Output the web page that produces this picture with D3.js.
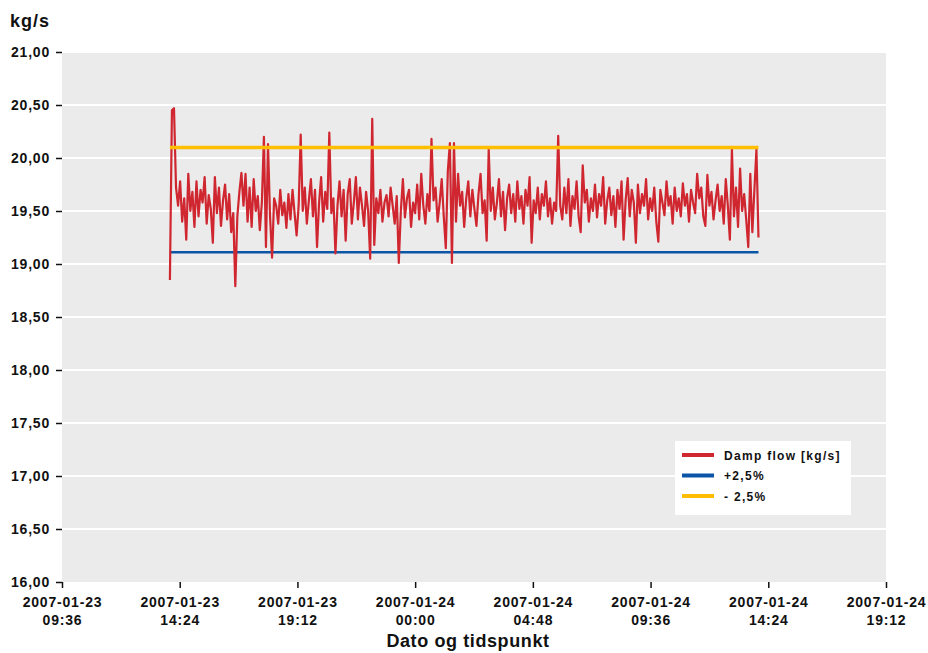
<!DOCTYPE html>
<html>
<head>
<meta charset="utf-8">
<script src="https://cdn.jsdelivr.net/npm/d3@7"></script>
<style>
  body { margin: 0; background: #fff; }
  text { font-family: "Liberation Sans", Arial, sans-serif; font-weight: bold; fill: #111; }
</style>
</head>
<body>
<div id="chart"></div>
<script>
// data: damp flow, one reading every 5 minutes, 2007-01-23 14:00 -> 2007-01-24 14:00
const startTime = "2007-01-23 14:00";
const stepMinutes = 5;
const flowValues = [
  18.85, 20.45, 20.47, 19.72, 19.55, 19.78, 19.40, 19.62, 19.23, 19.85,
  19.50, 19.68, 19.35, 19.78, 19.45, 19.70, 19.58, 19.82, 19.38, 19.65,
  19.52, 19.20, 19.82, 19.48, 19.72, 19.36, 19.60, 19.75, 19.42, 19.66,
  19.30, 19.48, 18.79, 19.45, 19.68, 19.86, 19.55, 19.85, 19.40, 19.72,
  19.35, 19.80, 19.50, 19.64, 19.32, 19.58, 20.20, 19.16, 20.13, 19.45,
  19.06, 19.62, 19.55, 19.38, 19.70, 19.46, 19.58, 19.34, 19.66, 19.42,
  19.70, 19.48, 19.27, 19.55, 20.22, 19.50, 19.72, 19.38, 19.60, 19.80,
  19.45, 19.70, 19.16, 19.58, 19.82, 19.40, 19.68, 19.52, 20.24, 19.48,
  19.62, 19.10, 19.55, 19.78, 19.45, 19.70, 19.22, 19.66, 19.80, 19.38,
  19.58, 19.82, 19.42, 19.72, 19.55, 19.36, 19.68, 19.50, 19.05, 20.37,
  19.18, 19.62, 19.48, 19.70, 19.40, 19.58, 19.65, 19.45, 19.72, 19.55,
  19.38, 19.64, 19.01, 19.50, 19.80, 19.44, 19.62, 19.70, 19.35, 19.58,
  19.48, 19.75, 19.42, 19.85, 19.55, 19.38, 19.66, 19.50, 20.18, 19.60,
  19.72, 19.40, 19.58, 19.80, 19.45, 19.15, 19.88, 20.14, 19.01, 20.14,
  19.40, 19.85, 19.55, 19.68, 19.35, 19.62, 19.78, 19.45, 19.70, 19.52,
  19.36, 19.66, 19.85, 19.48, 19.60, 19.22, 20.08, 19.50, 19.72, 19.42,
  19.58, 19.80, 19.45, 19.68, 19.32, 19.62, 19.75, 19.48, 19.66, 19.40,
  19.78, 19.52, 19.64, 19.38, 19.70, 19.55, 19.82, 19.20, 19.60, 19.48,
  19.72, 19.42, 19.66, 19.55, 19.78, 19.45, 19.62, 19.38, 19.58, 19.50,
  20.21, 19.55, 19.42, 19.72, 19.48, 19.80, 19.36, 19.64, 19.52, 19.78,
  19.45, 19.30, 19.93, 19.58, 19.70, 19.40, 19.62, 19.50, 19.75, 19.44,
  19.66, 19.55, 19.82, 19.38, 19.60, 19.72, 19.46, 19.64, 19.35, 19.70,
  19.52, 19.78, 19.23, 19.60, 19.81, 19.45, 19.70, 19.58, 19.20, 19.75,
  19.48, 19.66, 19.55, 19.80, 19.42, 19.62, 19.50, 19.72, 19.40, 19.21,
  19.70, 19.58, 19.46, 19.78, 19.55, 19.64, 19.38, 19.72, 19.50, 19.62,
  19.45, 19.76, 19.55, 19.66, 19.40, 19.70, 19.58, 19.48, 19.85, 19.62,
  19.72, 19.45, 19.36, 19.84, 19.55, 19.68, 19.42, 19.60, 19.75, 19.50,
  19.64, 19.38, 19.80, 19.55, 19.23, 20.08, 19.45, 19.72, 19.35, 19.90,
  19.50, 19.66, 19.42, 19.16, 19.85, 19.30, 19.70, 20.08, 19.25
];
const upperLimit = 19.11;   // "+2,5%"
const lowerLimit = 20.10;   // "- 2,5%"

const xTickLabels = [
  "2007-01-23 09:36", "2007-01-23 14:24", "2007-01-23 19:12", "2007-01-24 00:00",
  "2007-01-24 04:48", "2007-01-24 09:36", "2007-01-24 14:24", "2007-01-24 19:12"
];
const yTicks = [16, 16.5, 17, 17.5, 18, 18.5, 19, 19.5, 20, 20.5, 21];
const legendNames = ["Damp flow [kg/s]", "+2,5%", "- 2,5%"];
const legendColors = ["#cf2630", "#0b55a6", "#ffbf00"];

// CHART INIT ------------------------------
const W = 928, H = 653;
const margin = { top: 52, right: 42, bottom: 71, left: 62 };
const width = W - margin.left - margin.right;
const height = H - margin.top - margin.bottom;

const parseTime = d3.timeParse("%Y-%m-%d %H:%M");
const t0 = parseTime(startTime);
const data = flowValues.map((v, i) => ({ t: d3.timeMinute.offset(t0, i * stepMinutes), v: v }));
const tStart = data[0].t, tEnd = data[data.length - 1].t;
const tickDates = xTickLabels.map(parseTime);

const svg = d3.select('#chart').append('svg')
  .attr('width', W).attr('height', H);
const g = svg.append('g').attr('transform', `translate(${margin.left},${margin.top})`);

const x = d3.scaleTime().domain([tickDates[0], tickDates[tickDates.length - 1]]).range([0, width]);
const y = d3.scaleLinear().domain([16, 21]).range([height, 0]);

const locale = d3.formatLocale({ decimal: ",", thousands: ".", grouping: [3], currency: ["", ""] });
const fmt = locale.format(".2f");

// background + grid
g.append('rect').attr('width', width).attr('height', height).attr('fill', '#ebebeb');
g.selectAll('.grid').data(yTicks.slice(1)).enter().append('line')
  .attr('x1', 0).attr('x2', width)
  .attr('y1', d => y(d)).attr('y2', d => y(d))
  .attr('stroke', '#fff').attr('stroke-width', 2);

// y axis
const yAxis = g.append('g').call(d3.axisLeft(y).tickValues(yTicks).tickFormat(fmt).tickSize(6).tickPadding(6));
yAxis.select('.domain').remove();
yAxis.selectAll('.tick line').attr('stroke', '#111').attr('stroke-width', 1.5);
yAxis.selectAll('.tick text').style('font-size', '14px').style('letter-spacing', '0.8px')
  .attr('fill', '#111').attr('font-family', null);

// x axis
const xAxis = g.append('g').attr('transform', `translate(0,${height})`)
  .call(d3.axisBottom(x).tickValues(tickDates).tickSize(6).tickFormat(''));
xAxis.select('.domain').remove();
xAxis.selectAll('.tick line').attr('stroke', '#111').attr('stroke-width', 1.5);
xAxis.selectAll('.tick').each(function (d, i) {
  const parts = xTickLabels[i].split(' ');
  const t = d3.select(this).append('text')
    .attr('text-anchor', 'middle')
    .style('font-size', '14px').style('letter-spacing', '0.8px');
  t.append('tspan').attr('x', 0).attr('y', 25).text(parts[0]);
  t.append('tspan').attr('x', 0).attr('y', 43).text(parts[1]);
});

// limit lines
g.append('line')
  .attr('x1', x(tStart)).attr('x2', x(tEnd))
  .attr('y1', y(upperLimit)).attr('y2', y(upperLimit))
  .attr('stroke', legendColors[1]).attr('stroke-width', 2.5);

// flow line
const line = d3.line().x(d => x(d.t)).y(d => y(d.v));
g.append('path').datum(data)
  .attr('d', line)
  .attr('fill', 'none')
  .attr('stroke', legendColors[0])
  .attr('stroke-width', 2.2)
  .attr('stroke-linejoin', 'round');

g.append('line')
  .attr('x1', x(tStart)).attr('x2', x(tEnd))
  .attr('y1', y(lowerLimit)).attr('y2', y(lowerLimit))
  .attr('stroke', legendColors[2]).attr('stroke-width', 3.5);

// titles
svg.append('text').attr('x', 10).attr('y', 27).text('kg/s')
  .style('font-size', '18px').style('letter-spacing', '1px');
svg.append('text').attr('x', margin.left + width / 2 - 6).attr('y', 647)
  .attr('text-anchor', 'middle').text('Dato og tidspunkt')
  .style('font-size', '18px').style('letter-spacing', '0.6px');

// legend
const legend = svg.append('g').attr('transform', 'translate(675,441)');
legend.append('rect').attr('width', 176).attr('height', 74).attr('fill', '#fff');
legendNames.forEach((name, i) => {
  const row = legend.append('g').attr('transform', `translate(0,${14 + i * 20.5})`);
  row.append('line').attr('x1', 7).attr('x2', 39).attr('y1', 0).attr('y2', 0)
    .attr('stroke', legendColors[i]).attr('stroke-width', 4);
  row.append('text').attr('x', 49).attr('y', 4.5).text(name)
    .style('font-size', '12px').style('letter-spacing', '1.3px');
});
</script>
</body>
</html>
